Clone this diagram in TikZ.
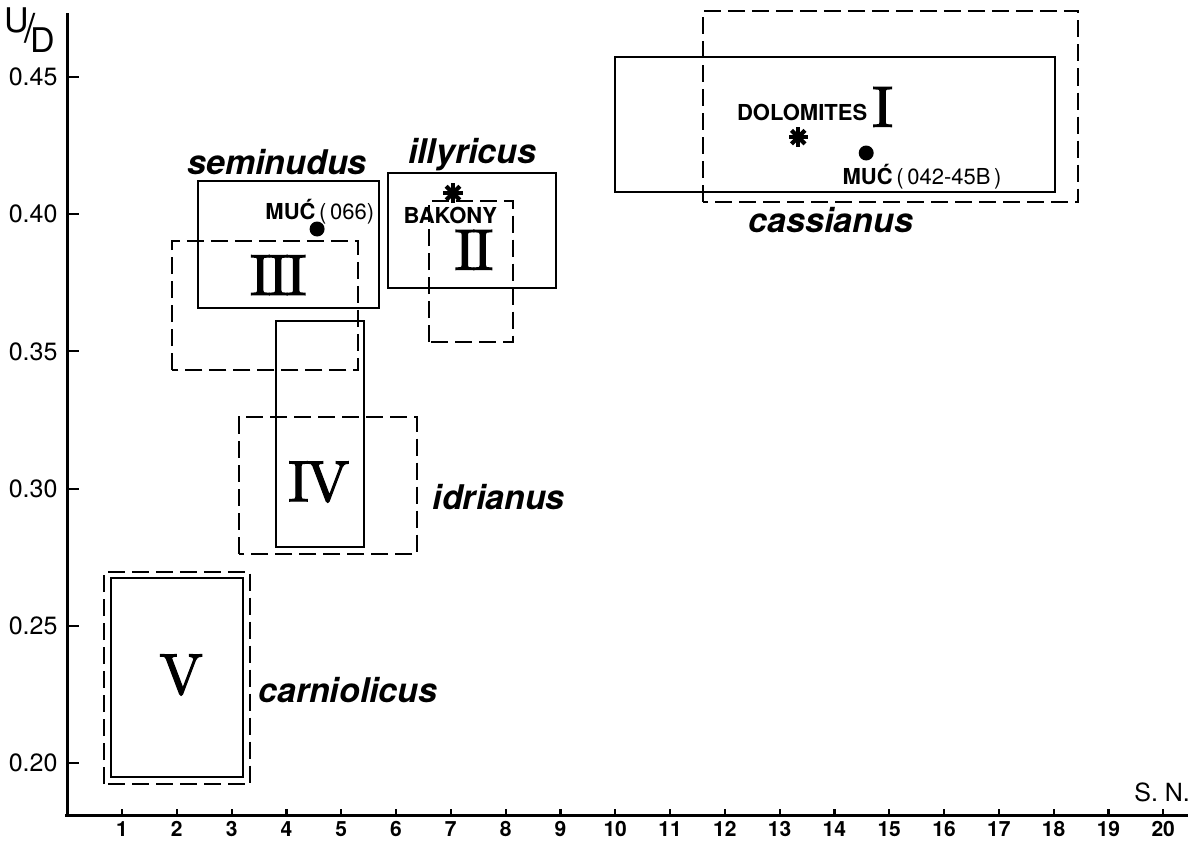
\documentclass[tikz,border=0pt]{standalone}
\usepackage{fontspec}
\newfontfamily\heros{TeX Gyre Heros}
\newfontfamily\romanno{lmroman10-regular.otf}[FakeBold=2]
\usetikzlibrary{positioning}

\begin{document}
\begin{tikzpicture}[x=27.4pt,y=13.72pt,
	every node/.style={font=\heros,inner sep=0pt},
	axis/.style={line width=1.5pt},
	tick/.style={line width=1.1pt},
	solidrange/.style={line width=1.1pt},
	dashrange/.style={line width=1.1pt,dash pattern=on 8.5pt off 3.5pt},
	species/.style={font=\heros\fontsize{17}{20}\selectfont\bfseries\itshape},
	group/.style={font=\romanno\fontsize{29}{30}\selectfont},
	site/.style={font=\heros\fontsize{11}{12}\selectfont},
	dot/.style={shape=circle,fill=black,minimum size=7.5pt},
	astmark/.style={line width=2.1pt},
	ylab/.style={font=\heros\fontsize{12.5}{14}\selectfont,anchor=east},
	xlab/.style={font=\heros\fontsize{10.5}{12}\selectfont\bfseries},
	axlab/.style={font=\heros\fontsize{17}{18}\selectfont},
	]
	\useasboundingbox (-1.2263,-2.806) rectangle (20.580,27.806);

	% axes
	\draw[axis] (-0.04,-1.93) -- (20.45,-1.93);
	\draw[axis] (0,-1.93) -- (0,27.33);
	\foreach \n in {1,...,20} {
		\draw[tick] (\n,-1.93) -- (\n,-1.67);
		\node[xlab] (x\n) at (\n,-2.40) {\n};
	}
	\foreach \u/\lab in {0/0.20,5/0.25,10/0.30,15/0.35,20/0.40,25/0.45} {
		\draw[tick] (0,\u) -- (0.22,\u);
		\node[ylab] (y\u) at (-0.17,\u) {\lab};
	}
	\node[axlab] (ud) at (-0.68,26.72)
		{\raisebox{5pt}{U}\kern-2.5pt{\fontsize{20}{20}\selectfont/}\kern-2.5pt\raisebox{-5pt}{D}};
	\node[font=\heros\fontsize{12.5}{14}\selectfont] (sn) at (19.98,-1.06) {S. N.};

	% ranges
	\draw[solidrange] (0.80,-0.51) rectangle (3.21,6.74);
	\draw[dashrange] (0.67,-0.77) rectangle (3.34,6.96);
	\draw[solidrange] (3.81,7.87) rectangle (5.42,16.11);
	\draw[dashrange] (3.14,7.62) rectangle (6.38,12.61);
	\draw[solidrange] (2.39,16.58) rectangle (5.69,21.21);
	\draw[dashrange] (1.91,14.32) rectangle (5.31,19.02);
	\draw[solidrange] (5.85,17.31) rectangle (8.92,21.50);
	\draw[dashrange] (6.60,15.34) rectangle (8.14,20.48);
	\draw[solidrange] (10.00,20.81) rectangle (18.03,25.73);
	\draw[dashrange] (11.60,20.45) rectangle (18.45,27.41);

	% group numbers
	\node[group] (g1) at (14.88,23.91) {I};
	\node[group] (g2) at (7.42,18.70) {I\kern-1.5pt I};
	\node[group] (g3) at (3.85,17.78) {I\kern-1.5pt I\kern-1.5pt I};
	\node[group] (g4) at (4.59,10.24) {I\kern-1.5pt V};
	\node[group] (g5) at (2.08,3.21) {V};

	% species names
	\node[species] (seminudus) at (3.83,21.90) {seminudus};
	\node[species] (illyricus) at (7.39,22.16) {illyricus};
	\node[species] (cassianus) at (13.94,19.79) {cassianus};
	\node[species,anchor=west] (idrianus) at (6.66,9.69) {idrianus};
	\node[species,anchor=west] (carniolicus) at (3.48,2.66) {carniolicus};

	% localities
	\node[dot] (muc1) at (4.56,19.46) {};
	\node[site] (muc1-lab) at (4.61,20.08) {\textbf{MUĆ}\,(\,066)};
	\coordinate (bakony) at (7.04,20.77);
	\node[site] (bakony-lab) at (6.99,19.97) {\textbf{BAKONY}};
	\coordinate (dolomites) at (13.34,22.81);
	\node[site] (dolomites-lab) at (13.41,23.72) {\textbf{DOLOMITES}};
	\node[dot] (muc2) at (14.58,22.23) {};
	\node[site] (muc2-lab) at (15.60,21.36) {\textbf{MUĆ}\,(\,042-45B\,)};
	\foreach \p in {bakony,dolomites}
		\foreach \a in {0,45,90,135}
			\draw[astmark,shift={(\p)}] (\a:4.8pt) -- (\a+180:4.8pt);
\end{tikzpicture}
\end{document}
